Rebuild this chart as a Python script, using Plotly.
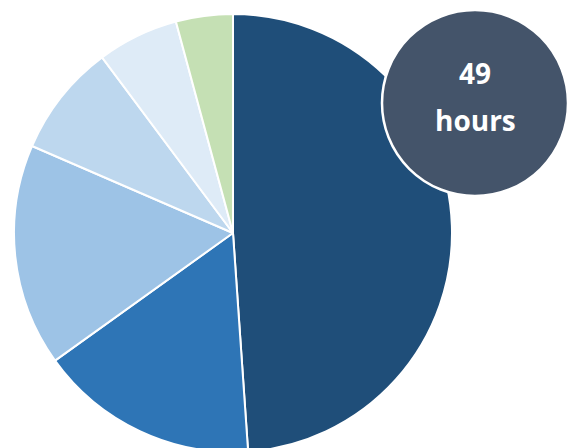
import plotly.graph_objects as go

categories = ["A", "B", "C", "D", "E", "F"]
values = [48.9, 16.2, 16.4, 8.3, 6.0, 4.2]
colors = ["#1F4E79", "#2E75B6", "#9DC3E6", "#BDD7EE", "#DEEBF7", "#C5E0B4"]
badge_number = "49"
badge_unit = "hours"

W, H = 577, 456
cx, cy, r = 233, 233, 219

fig = go.Figure(go.Pie(
    labels=categories,
    values=values,
    sort=False,
    direction="clockwise",
    rotation=0,
    marker=dict(colors=colors, line=dict(color="white", width=2)),
    textinfo="none",
    hoverinfo="label+value",
    domain=dict(x=[(cx - r) / W, (cx + r) / W], y=[(H - cy - r) / H, (H - cy + r) / H]),
))

bx, by, br = 475, 103, 93
fig.add_shape(type="circle", xref="paper", yref="paper",
              x0=(bx - br) / W, x1=(bx + br) / W,
              y0=(H - by - br) / H, y1=(H - by + br) / H,
              fillcolor="#44546A", line=dict(color="white", width=2.5), layer="above")
fig.add_annotation(x=bx / W, y=(H - 73) / H, xref="paper", yref="paper",
                   xanchor="center", yanchor="middle",
                   text="<b>" + badge_number + "</b>", showarrow=False,
                   font=dict(family="Open Sans", size=28, color="white"))
fig.add_annotation(x=bx / W, y=(H - 120) / H, xref="paper", yref="paper",
                   xanchor="center", yanchor="middle",
                   text="<b>" + badge_unit + "</b>", showarrow=False,
                   font=dict(family="Open Sans", size=28, color="white"))

fig.update_layout(width=W, height=H, margin=dict(l=0, r=0, t=0, b=0),
                  paper_bgcolor="white", plot_bgcolor="white", showlegend=False)
fig.write_html("out.html", config={"displayModeBar": False},
               post_script="document.body.style.margin='0';document.body.style.overflow='hidden';")
